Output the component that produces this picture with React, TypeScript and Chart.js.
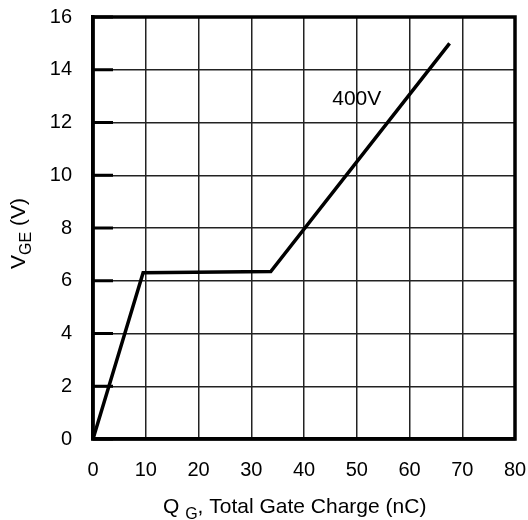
import React, { useEffect, useRef } from "react";
import { Chart, registerables } from "chart.js";

Chart.register(...registerables);

const charge = [0, 9.5, 33.7, 67.6];
const vge = [0, 6.3, 6.35, 15.0];
const xTicks = [0, 10, 20, 30, 40, 50, 60, 70, 80];
const yTicks = [0, 2, 4, 6, 8, 10, 12, 14, 16];
const curveLabel = "400V";
const curveLabelAt = { x: 50, y: 12.9 };

const FONT = "'Liberation Sans', Arial, Helvetica, sans-serif";

const decor = {
  id: "decor",
  afterDraw(chart: any) {
    const { ctx, chartArea: a, scales } = chart;
    const ys = scales.y;
    const xs = scales.x;
    ctx.save();
    ctx.strokeStyle = "#000";
    ctx.lineWidth = 3;
    for (const v of yTicks) {
      const py = ys.getPixelForValue(v);
      ctx.beginPath();
      ctx.moveTo(a.left, py);
      ctx.lineTo(a.left + 20, py);
      ctx.stroke();
    }
    ctx.lineWidth = 3.5;
    ctx.strokeRect(a.left, a.top, a.right - a.left, a.bottom - a.top);

    ctx.fillStyle = "#000";
    ctx.font = `21px ${FONT}`;
    ctx.textAlign = "center";
    ctx.textBaseline = "middle";
    ctx.fillText(curveLabel, xs.getPixelForValue(curveLabelAt.x), ys.getPixelForValue(curveLabelAt.y));

    ctx.textAlign = "left";
    ctx.textBaseline = "alphabetic";
    let x = 163;
    const base = 513;
    ctx.font = `21px ${FONT}`;
    ctx.fillText("Q", x, base);
    x += ctx.measureText("Q ").width;
    ctx.font = `16px ${FONT}`;
    ctx.fillText("G", x, base + 6);
    x += ctx.measureText("G").width;
    ctx.font = `21px ${FONT}`;
    ctx.fillText(", Total Gate Charge (nC)", x, base);

    ctx.translate(25, 269);
    ctx.rotate(-Math.PI / 2);
    let t = 0;
    ctx.font = `21px ${FONT}`;
    ctx.fillText("V", t, 0);
    t += ctx.measureText("V").width;
    ctx.font = `16px ${FONT}`;
    ctx.fillText("GE", t, 6);
    t += ctx.measureText("GE").width;
    ctx.font = `21px ${FONT}`;
    ctx.fillText(" (V)", t, 0);
    ctx.restore();
  },
};

export default function App() {
  const ref = useRef<HTMLCanvasElement>(null);
  useEffect(() => {
    document.body.style.margin = "0";
    const chart = new Chart(ref.current!, {
      type: "line",
      data: {
        datasets: [
          {
            data: charge.map((c, i) => ({ x: c, y: vge[i] })),
            borderColor: "#000",
            borderWidth: 3.5,
            pointRadius: 0,
            tension: 0,
            fill: false,
          },
        ],
      },
      options: {
        animation: false,
        responsive: false,
        maintainAspectRatio: false,
        layout: { padding: { top: 17, right: 13, left: 0, bottom: 0 } },
        plugins: { legend: { display: false }, tooltip: { enabled: false } },
        scales: {
          x: {
            type: "linear",
            min: 0,
            max: 80,
            afterBuildTicks: (s: any) => {
              s.ticks = xTicks.map((v) => ({ value: v }));
            },
            afterFit: (s: any) => {
              s.height = 81;
              s.paddingLeft = 0;
              s.paddingRight = 0;
            },
            grid: { color: "#222", lineWidth: 1.5, drawTicks: false },
            border: { color: "#000", width: 3.5 },
            ticks: { color: "#000", font: { family: FONT, size: 20 }, padding: 19, maxRotation: 0 },
          },
          y: {
            type: "linear",
            min: 0,
            max: 16,
            afterBuildTicks: (s: any) => {
              s.ticks = yTicks.map((v) => ({ value: v }));
            },
            afterFit: (s: any) => {
              s.width = 93;
              s.paddingTop = 0;
              s.paddingBottom = 0;
            },
            grid: { color: "#222", lineWidth: 1.5, drawTicks: false },
            border: { color: "#000", width: 3.5 },
            ticks: { color: "#000", font: { family: FONT, size: 20 }, padding: 21 },
          },
        },
      },
      plugins: [decor],
    });
    return () => chart.destroy();
  }, []);
  return (
    <div style={{ width: 528, height: 520, background: "#fff" }}>
      <canvas ref={ref} width={528} height={520} style={{ display: "block" }} />
    </div>
  );
}
